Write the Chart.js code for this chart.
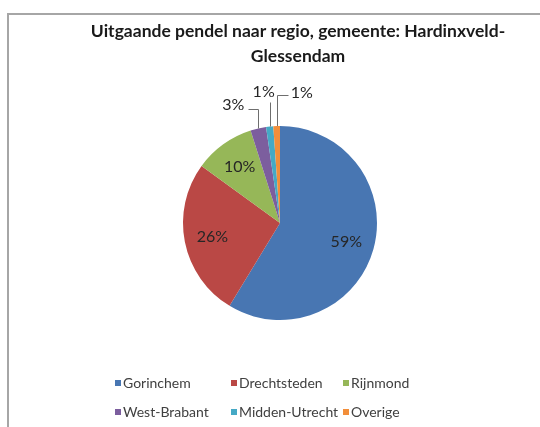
<!DOCTYPE html>
<html><head><meta charset="utf-8">
<script src="https://cdn.jsdelivr.net/npm/chart.js@4"></script>
<style>
html,body{margin:0;padding:0;background:#fff;}
#wrap{position:relative;width:540px;height:427px;overflow:hidden;}
#frame{position:absolute;left:7px;top:13px;width:600px;height:500px;border-left:2px solid #a6a6a6;border-top:2px solid #a6a6a6;pointer-events:none;}
canvas{position:absolute;left:0;top:0;}
</style></head><body>
<div id="wrap"><canvas id="c" width="540" height="427"></canvas><div id="frame"></div></div>
<script>
const titleLines = ['Uitgaande pendel naar regio, gemeente: Hardinxveld-', 'Glessendam'];
const categories = ['Gorinchem', 'Drechtsteden', 'Rijnmond', 'West-Brabant', 'Midden-Utrecht', 'Overige'];
const shares = [58.7, 26.3, 10.1, 2.6, 1.2, 1.1];
const colors = ['#4876B2', '#BA4845', '#96B758', '#7C5E9E', '#45A9C5', '#F28E3A'];

const FONT = 'Lato, "Open Sans", sans-serif';

const titlePlugin = {
  id: 'customTitle',
  afterDraw(chart) {
    const ctx = chart.ctx;
    ctx.save();
    ctx.font = 'bold 17.5px ' + FONT;
    ctx.fillStyle = '#1a1a1a';
    ctx.textAlign = 'center';
    ctx.textBaseline = 'middle';
    titleLines.forEach((t, i) => ctx.fillText(t, 298, 31 + i * 25));
    ctx.restore();
  }
};

const outsidePlacement = {
  3: {rise: 19, run: -10, dx: -4, dy: -5, align: 'right'},
  4: {rise: 25, run: 0, dx: -6, dy: -10, align: 'center'},
  5: {rise: 31, run: 11, dx: 3, dy: -2, align: 'left'}
};

const labelPlugin = {
  id: 'sliceLabels',
  afterDatasetsDraw(chart) {
    const ctx = chart.ctx;
    const meta = chart.getDatasetMeta(0);
    const data = chart.data.datasets[0].data;
    ctx.save();
    ctx.font = '16px ' + FONT;
    ctx.fillStyle = '#262626';
    ctx.strokeStyle = '#6e6e6e';
    ctx.lineWidth = 1;
    meta.data.forEach((arc, i) => {
      const v = data[i];
      const txt = Math.round(v) + '%';
      const p = arc.getProps(['x', 'y', 'startAngle', 'endAngle', 'outerRadius'], true);
      const mid = (p.startAngle + p.endAngle) / 2;
      if (v >= 5) {
        const r = p.outerRadius * 0.71;
        ctx.textAlign = 'center';
        ctx.textBaseline = 'middle';
        ctx.fillText(txt, p.x + r * Math.cos(mid), p.y + r * Math.sin(mid));
      } else {
        const o = outsidePlacement[i];
        const ex = p.x + p.outerRadius * Math.cos(mid);
        const ey = p.y + p.outerRadius * Math.sin(mid);
        const ux = ex, uy = ey - o.rise;
        const hx = ux + o.run, hy = uy;
        ctx.beginPath();
        ctx.moveTo(Math.round(ex) + 0.5, ey);
        ctx.lineTo(Math.round(ux) + 0.5, Math.round(uy) + 0.5);
        ctx.lineTo(Math.round(hx) + 0.5, Math.round(hy) + 0.5);
        ctx.stroke();
        ctx.textAlign = o.align;
        ctx.textBaseline = 'middle';
        ctx.fillText(txt, hx + o.dx, hy + o.dy);
      }
    });
    ctx.restore();
  }
};

const legendPlugin = {
  id: 'gridLegend',
  afterDraw(chart) {
    const ctx = chart.ctx;
    const colX = [115, 231, 343];
    const rowY = [383, 412];
    ctx.save();
    ctx.font = '14px ' + FONT;
    ctx.textBaseline = 'middle';
    ctx.textAlign = 'left';
    chart.data.labels.forEach((lab, i) => {
      const x = colX[i % 3], y = rowY[Math.floor(i / 3)];
      ctx.fillStyle = chart.data.datasets[0].backgroundColor[i];
      ctx.fillRect(x, y - 3, 6, 6);
      ctx.fillStyle = '#404040';
      ctx.fillText(lab, x + 8, y);
    });
    ctx.restore();
  }
};

new Chart(document.getElementById('c'), {
  type: 'pie',
  data: {
    labels: categories,
    datasets: [{
      data: shares,
      backgroundColor: colors,
      borderWidth: 0,
      hoverOffset: 0
    }]
  },
  options: {
    responsive: false,
    animation: false,
    layout: {padding: {left: 183, right: 163, top: 126, bottom: 107}},
    plugins: {
      legend: {display: false},
      title: {display: false},
      tooltip: {enabled: false}
    }
  },
  plugins: [labelPlugin, titlePlugin, legendPlugin]
});
</script>
</body></html>
